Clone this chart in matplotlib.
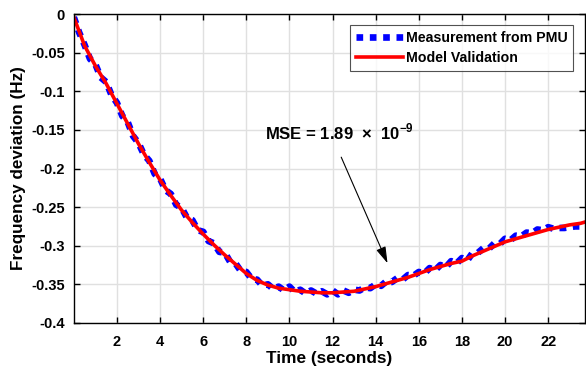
import matplotlib
matplotlib.use("Agg")
import matplotlib.pyplot as plt

plt.rcParams['font.family'] = ['Liberation Sans', 'DejaVu Sans']
plt.rcParams['font.weight'] = 'bold'
plt.rcParams['mathtext.fontset'] = 'custom'
plt.rcParams['mathtext.rm'] = 'Liberation Sans:bold'
plt.rcParams['mathtext.bf'] = 'Liberation Sans:bold'

meas_t = [i * 0.25 for i in range(96)]
meas_y = [-0.004, -0.024, -0.040, -0.058, -0.065, -0.082, -0.088, -0.105,
          -0.115, -0.132, -0.140, -0.158, -0.167, -0.182, -0.190, -0.207,
          -0.213, -0.228, -0.233, -0.247, -0.251, -0.264, -0.267, -0.280,
          -0.282, -0.294, -0.297, -0.308, -0.309, -0.321, -0.323, -0.333,
          -0.334, -0.343, -0.344, -0.352, -0.350, -0.356, -0.353, -0.358,
          -0.353, -0.360, -0.357, -0.362, -0.358, -0.362, -0.359, -0.363,
          -0.358, -0.363, -0.358, -0.361, -0.357, -0.358, -0.354, -0.355,
          -0.350, -0.352, -0.346, -0.347, -0.342, -0.344, -0.338, -0.339,
          -0.334, -0.336, -0.329, -0.332, -0.325, -0.328, -0.320, -0.323,
          -0.316, -0.319, -0.309, -0.309, -0.303, -0.304, -0.297, -0.298,
          -0.291, -0.293, -0.287, -0.288, -0.283, -0.284, -0.279, -0.280,
          -0.276, -0.278, -0.277, -0.277, -0.276, -0.275, -0.275, -0.273]

model_t = [i * 0.5 for i in range(49)]
model_y = [-0.004, -0.041, -0.067, -0.090, -0.116, -0.142, -0.168, -0.192,
           -0.215, -0.235, -0.254, -0.270, -0.285, -0.299, -0.312, -0.324,
           -0.336, -0.345, -0.351, -0.355, -0.357, -0.359, -0.360, -0.361,
           -0.361, -0.360, -0.359, -0.356, -0.353, -0.349, -0.345, -0.341,
           -0.336, -0.331, -0.327, -0.323, -0.320, -0.313, -0.307, -0.301,
           -0.295, -0.291, -0.287, -0.283, -0.279, -0.276, -0.273, -0.271,
           -0.267]

x_ticks = [2, 4, 6, 8, 10, 12, 14, 16, 18, 20, 22]
y_ticks = [0, -0.05, -0.1, -0.15, -0.2, -0.25, -0.3, -0.35, -0.4]
y_tick_labels = ['0', '-0.05', '-0.1', '-0.15', '-0.2', '-0.25', '-0.3', '-0.35', '-0.4']

fig = plt.figure(figsize=(5.86, 3.72), dpi=100)
ax = fig.add_axes([0.126, 0.132, 0.872, 0.830])

ax.plot(meas_t, meas_y, color='#0000ff', linewidth=4.8, linestyle=(0, (1, 1)),
        dash_capstyle='butt', label='Measurement from PMU')
ax.plot(model_t, model_y, color='#ff0000', linewidth=2.6, label='Model Validation')

ax.set_xlim(0, 23.7)
ax.set_ylim(-0.4, 0)
ax.set_xticks(x_ticks)
ax.set_yticks(y_ticks)
ax.set_yticklabels(y_tick_labels)
ax.tick_params(direction='in', top=True, right=True, labelsize=10.5, length=4,
               width=1)
ax.tick_params(axis='x', pad=9)
ax.tick_params(axis='y', pad=6.5)
for lab in ax.get_xticklabels() + ax.get_yticklabels():
    lab.set_fontweight('bold')
ax.grid(True, color='#e0e0e0', linewidth=1.0)
ax.set_axisbelow(True)
for s in ax.spines.values():
    s.set_linewidth(1.0)

ax.set_xlabel('Time (seconds)', fontsize=12.4, fontweight='bold', labelpad=1)
ax.set_ylabel('Frequency deviation (Hz)', fontsize=12.3, fontweight='bold', labelpad=4)

leg = ax.legend(loc='upper right', bbox_to_anchor=(0.977, 0.964), borderaxespad=0,
                fontsize=10.2, frameon=True, fancybox=False, edgecolor='#262626',
                handlelength=3.3, handletextpad=0.2, borderpad=0.4,
                labelspacing=0.45)
leg.get_frame().set_linewidth(0.8)
for t in leg.get_texts():
    t.set_fontweight('bold')

ax.annotate('', xy=(14.6, -0.326), xytext=(12.35, -0.182),
            arrowprops=dict(arrowstyle='-|>,head_length=1.0,head_width=0.3',
                            color='black', linewidth=0.8))
ax.text(8.85, -0.153, 'MSE = 1.89  \u00d7  10$^{-9}$', fontsize=12,
        fontweight='bold', va='center', ha='left')

fig.savefig('out.png', dpi=100)
